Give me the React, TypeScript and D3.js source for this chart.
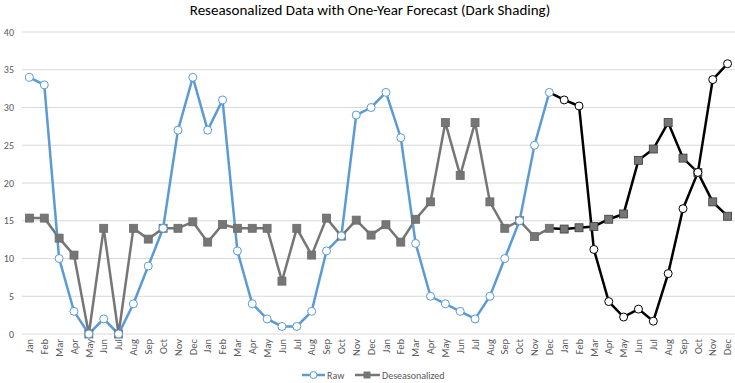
import React from "react";
import * as d3 from "d3";

const months = ["Jan","Feb","Mar","Apr","May","Jun","Jul","Aug","Sep","Oct","Nov","Dec"];
const categories: string[] = [...months, ...months, ...months, ...months];

// Observed (3 years) + forecast (year 4)
const rawValues = [
  34, 33, 10, 3, 0, 2, 0, 4, 9, 14, 27, 34,
  27, 31, 11, 4, 2, 1, 1, 3, 11, 13, 29, 30,
  32, 26, 12, 5, 4, 3, 2, 5, 10, 15, 25, 32,
  31, 30.2, 11.2, 4.3, 2.25, 3.3, 1.7, 8, 16.6, 21.4, 33.7, 35.8,
];
const deseasValues = [
  15.35, 15.35, 12.7, 10.45, 0, 14, 0, 14, 12.57, 14, 14, 14.86,
  12.17, 14.5, 14, 14, 14, 7, 14, 10.45, 15.35, 12.97, 15.08, 13.1,
  14.47, 12.17, 15.2, 17.5, 28, 21, 28, 17.5, 14, 15, 12.9, 14,
  13.9, 14.07, 14.25, 15.2, 15.9, 23, 24.5, 28, 23.3, 21.4, 17.5, 15.6,
];
const forecastStart = 35; // index of last observed point (Dec, year 3)
const yTicks = [0, 5, 10, 15, 20, 25, 30, 35, 40];
const title = "Reseasonalized Data with One-Year Forecast (Dark Shading)";
const seriesNames = ["Raw", "Deseasonalized"];

const W = 735, H = 383;
const left = 22, right = 735, top = 32, bottom = 334;
const FONT = "Calibri, Carlito, 'Liberation Sans', Arial, sans-serif";

export default function App() {
  const x = d3.scaleBand<number>().domain(d3.range(categories.length)).range([left, right]);
  const cx = (i: number) => (x(i) as number) + x.bandwidth() / 2;
  const y = d3.scaleLinear().domain([0, 40]).range([bottom, top]);
  const line = d3.line<[number, number]>().x((d) => cx(d[0])).y((d) => y(d[1]));

  const split = (vals: number[]) => {
    const obs = vals.slice(0, forecastStart + 1).map((v, i) => [i, v] as [number, number]);
    const fc = vals.slice(forecastStart).map((v, i) => [i + forecastStart, v] as [number, number]);
    return [obs, fc];
  };
  const [rawObs, rawFc] = split(rawValues);
  const [desObs, desFc] = split(deseasValues);

  const blue = "#5b9bd5";
  const gray = "#767676";
  const black = "#000000";
  const sq = 8;

  return (
    <svg width={W} height={H} style={{ position: "absolute", left: 0, top: 0, background: "#fff" }}>
      <text x={370} y={15} textAnchor="middle" fontFamily={FONT} fontSize={15} fill="#000">{title}</text>
      {yTicks.map((t) => (
        <g key={t}>
          <line x1={left} x2={right} y1={y(t)} y2={y(t)} stroke="#d9d9d9" strokeWidth={1} />
          <text x={14} y={y(t) + 3.5} textAnchor="end" fontFamily={FONT} fontSize={10} fill="#595959">{t}</text>
        </g>
      ))}
      {categories.map((c, i) => (
        <text key={i} transform={`translate(${cx(i) + 3.7},${bottom + 5}) rotate(-90)`} textAnchor="end"
          fontFamily={FONT} fontSize={10.5} fill="#595959">{c}</text>
      ))}
      {/* Deseasonalized */}
      <path d={line(desObs) as string} fill="none" stroke={gray} strokeWidth={2.5} />
      <path d={line(desFc) as string} fill="none" stroke={black} strokeWidth={2.5} />
      {/* Raw */}
      <path d={line(rawObs) as string} fill="none" stroke={blue} strokeWidth={2.5} />
      <path d={line(rawFc) as string} fill="none" stroke={black} strokeWidth={2.5} />
      {deseasValues.map((v, i) => (
        <rect key={"d" + i} x={cx(i) - sq / 2} y={y(v) - sq / 2} width={sq} height={sq}
          fill="#767676" stroke={i > forecastStart ? "#3a3a3a" : "#6a6a6a"} strokeWidth={0.8} />
      ))}
      {rawValues.map((v, i) => (
        <circle key={"r" + i} cx={cx(i)} cy={y(v)} r={4} fill="#fff"
          stroke={i > forecastStart ? black : blue} strokeWidth={1} />
      ))}
      {/* Legend */}
      <g>
        <line x1={302} x2={325} y1={375} y2={375} stroke={blue} strokeWidth={2.5} />
        <circle cx={313.5} cy={375} r={3.5} fill="#fff" stroke={blue} strokeWidth={1} />
        <text x={327} y={378.5} fontFamily={FONT} fontSize={10} fill="#595959">{seriesNames[0]}</text>
        <line x1={355} x2={380} y1={375} y2={375} stroke={gray} strokeWidth={2.5} />
        <rect x={363.5} y={371.5} width={7} height={7} fill="#767676" />
        <text x={382} y={378.5} fontFamily={FONT} fontSize={10} fill="#595959">{seriesNames[1]}</text>
      </g>
    </svg>
  );
}
